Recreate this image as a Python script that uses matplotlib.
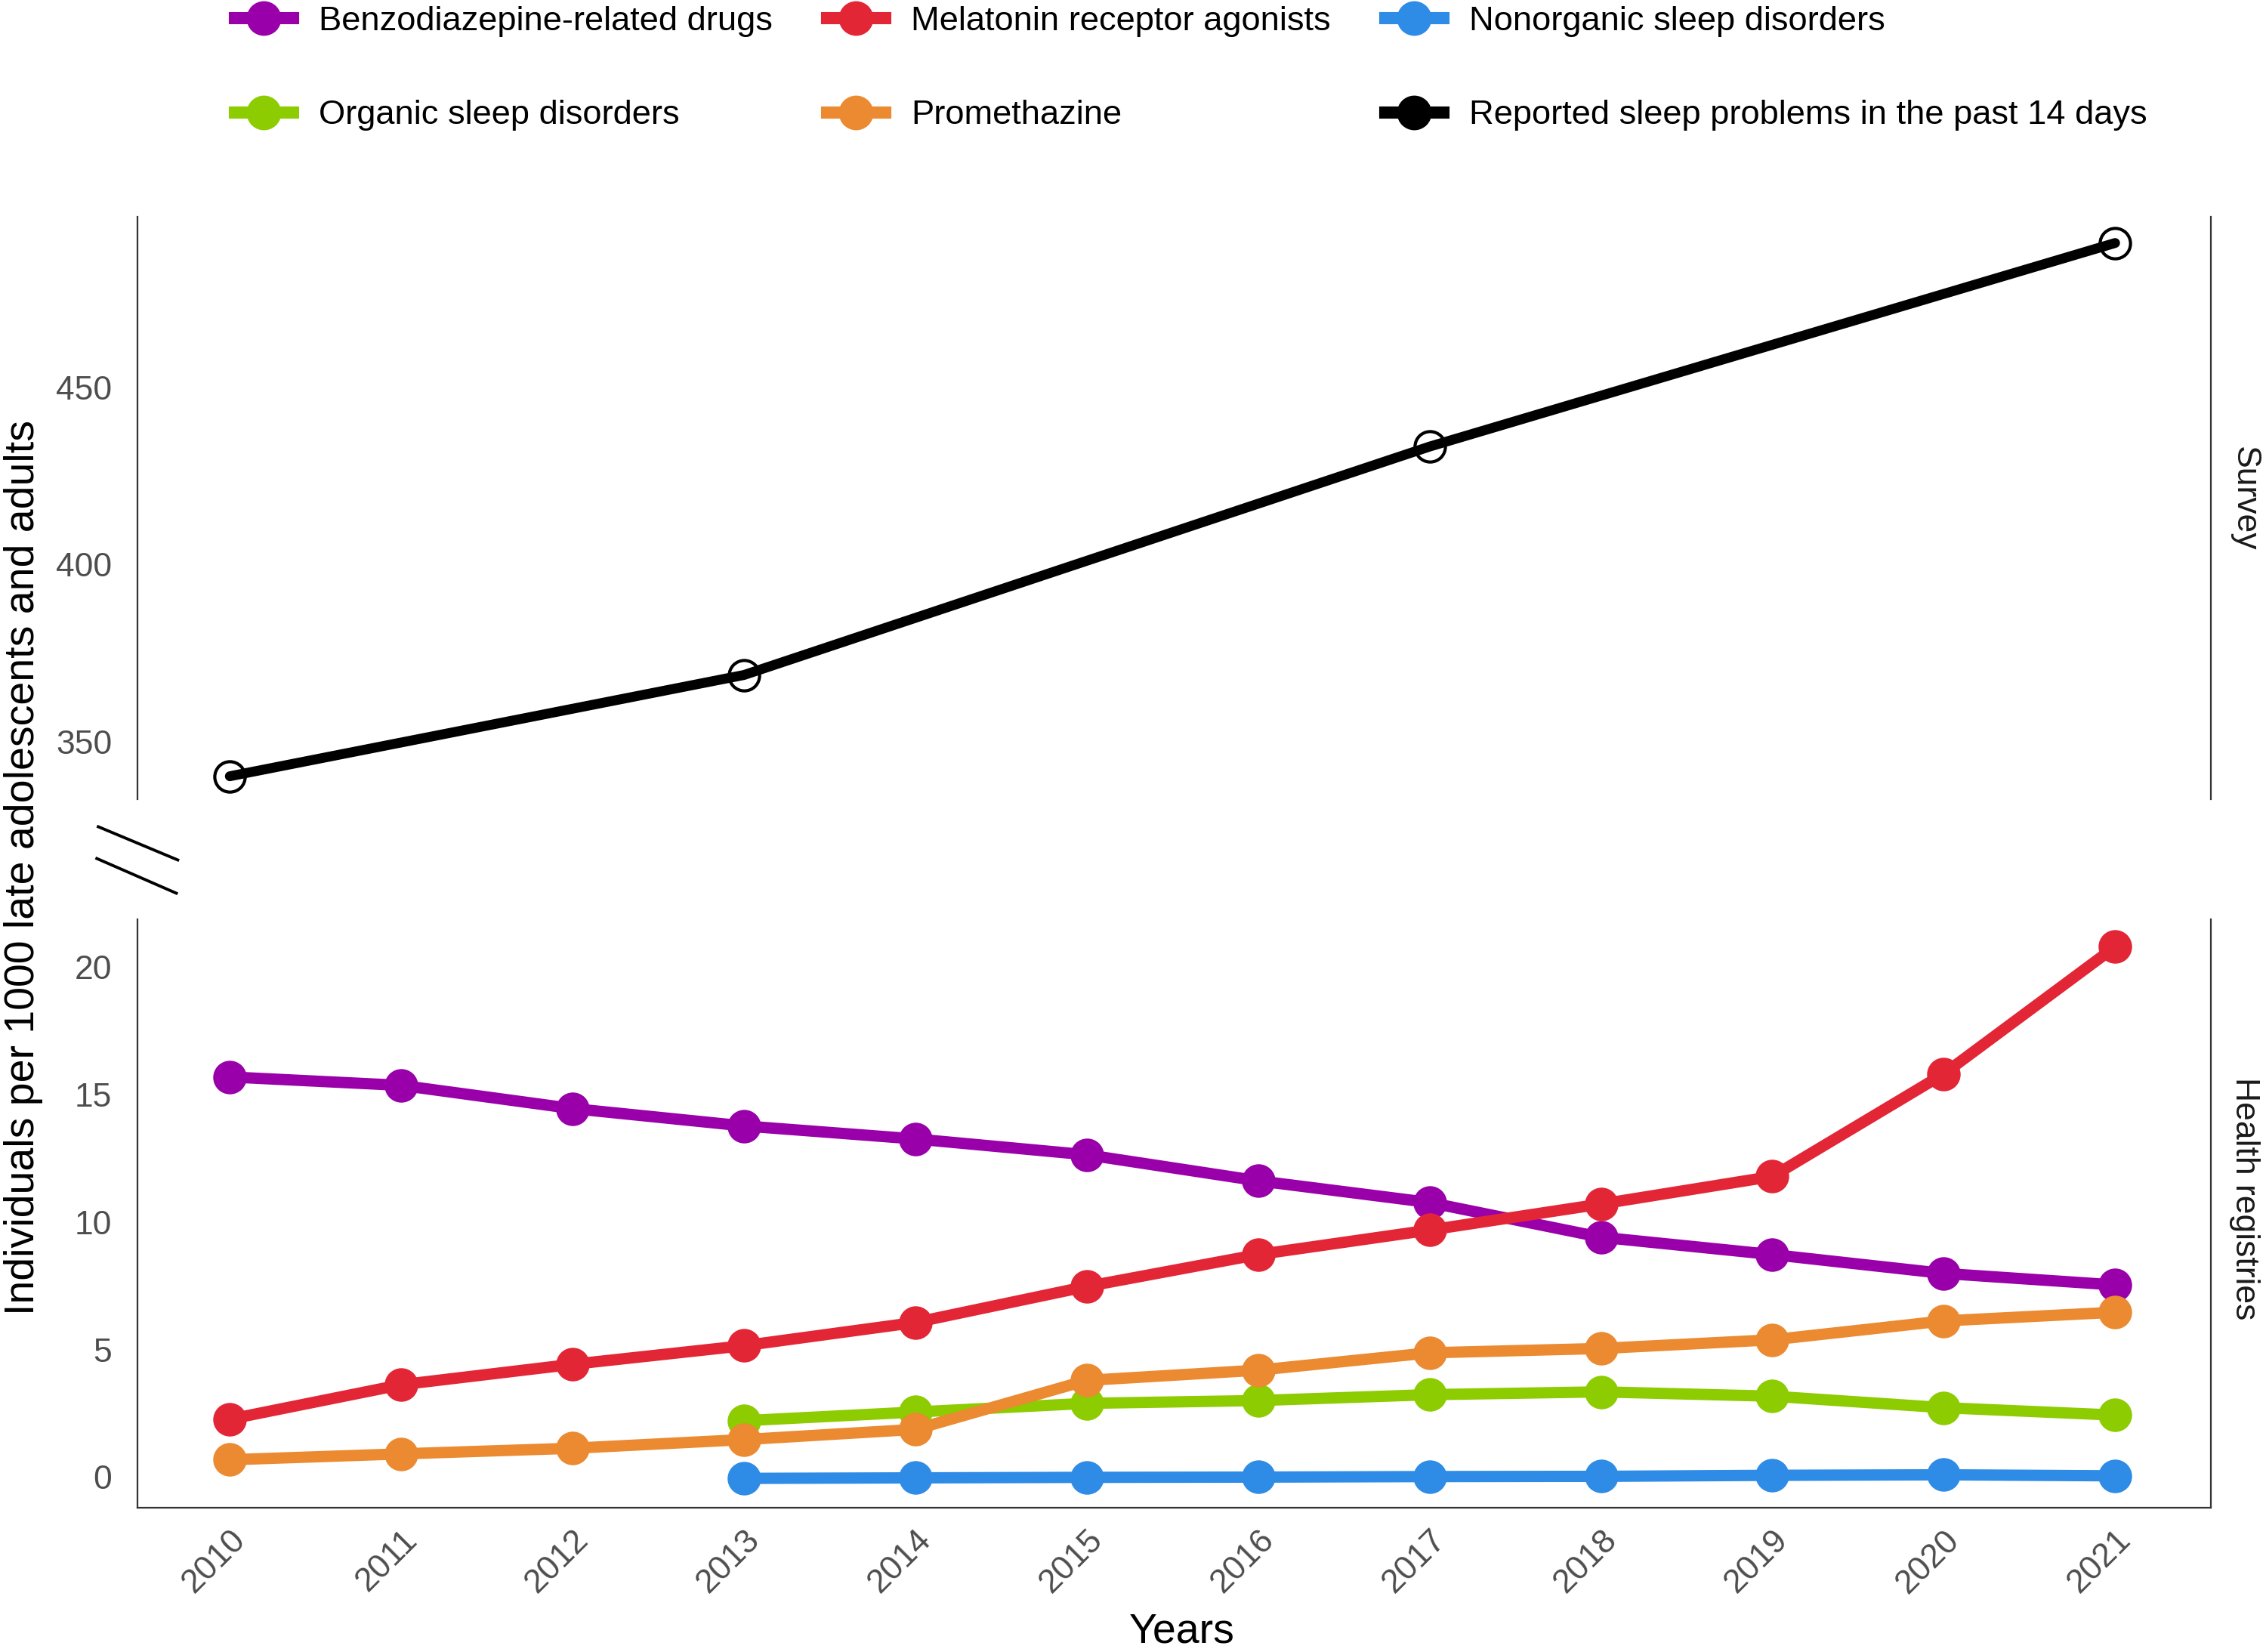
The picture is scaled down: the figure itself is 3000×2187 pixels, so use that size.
import matplotlib
matplotlib.use("Agg")
import matplotlib.pyplot as plt
from matplotlib.lines import Line2D
import numpy as np

plt.rcParams['font.family'] = ['Liberation Sans', 'DejaVu Sans']

# ---------------- data ----------------
years = [2010, 2011, 2012, 2013, 2014, 2015, 2016, 2017, 2018, 2019, 2020, 2021]
years_late = [2013, 2014, 2015, 2016, 2017, 2018, 2019, 2020, 2021]
survey_years = [2010, 2013, 2017, 2021]

benzo = [15.68, 15.35, 14.44, 13.76, 13.25, 12.63, 11.61, 10.76, 9.40, 8.72, 7.98, 7.53]
melatonin = [2.27, 3.62, 4.42, 5.15, 6.06, 7.47, 8.72, 9.68, 10.70, 11.78, 15.80, 20.78]
promethazine = [0.68, 0.91, 1.13, 1.47, 1.87, 3.79, 4.19, 4.87, 5.04, 5.38, 6.12, 6.46]
organic = [2.21, 2.55, 2.89, 3.00, 3.23, 3.34, 3.17, 2.72, 2.43]
nonorganic = [-0.05, -0.03, -0.01, 0.00, 0.02, 0.03, 0.07, 0.09, 0.05]
survey = [340.2, 368.8, 433.3, 490.8]

labels = ['Benzodiazepine-related drugs', 'Melatonin receptor agonists',
          'Nonorganic sleep disorders', 'Organic sleep disorders',
          'Promethazine', 'Reported sleep problems in the past 14 days']
colors = ['#9900AA', '#E32636', '#2E8BE6', '#8CCC00', '#EB8A30', '#000000']

# ---------------- figure ----------------
W, H = 1568, 1143   # reference layout units
fig = plt.figure(figsize=(15, 10.935), dpi=200)

def fx(x):
    return x / W

def fy(y):
    return 1 - y / H

ax_top = fig.add_axes([fx(95), fy(553), fx(1530) - fx(95), fy(150) - fy(553)])
ax_bot = fig.add_axes([fx(95), fy(1043), fx(1530) - fx(95), fy(636) - fy(1043)])

spine_col = '#333333'
tick_col = '#4D4D4D'
for ax in (ax_top, ax_bot):
    for s in ax.spines.values():
        s.set_color(spine_col)
        s.set_linewidth(0.8)
    ax.spines['top'].set_visible(False)
    ax.tick_params(axis='both', length=0, labelsize=16, labelcolor=tick_col)
    ax.tick_params(axis='y', pad=12)
    ax.set_xlim(2009.46, 2021.56)
ax_top.spines['bottom'].set_visible(False)

# survey panel
ax_top.plot(survey_years, survey, color='black', lw=4.7, zorder=3,
            solid_capstyle='round', solid_joinstyle='round')
ax_top.plot(survey_years, survey, ls='none', marker='o', ms=14.5,
            mfc='white', mec='black', mew=1.5, zorder=2)
ax_top.set_ylim(333.7, 498.2)
ax_top.set_yticks([350, 400, 450])
ax_top.set_xticks([])

# health registries panel
series = [(years, benzo), (years, melatonin), (years_late, nonorganic),
          (years_late, organic), (years, promethazine)]
for (xs, ys), c in zip(series, colors[:5]):
    ax_bot.plot(xs, ys, color=c, lw=5.4, zorder=2,
                solid_capstyle='round', solid_joinstyle='round')
for (xs, ys), c in zip(series, colors[:5]):
    ax_bot.plot(xs, ys, ls='none', marker='o', ms=15, color=c, zorder=3)
ax_bot.set_ylim(-1.19, 21.86)
ax_bot.set_yticks([0, 5, 10, 15, 20])
ax_bot.set_xticks(years)
ax_bot.set_xticklabels([str(y) for y in years], rotation=45, ha='right',
                       rotation_mode='anchor')
ax_bot.tick_params(axis='x', pad=8)

# strip labels
fig.text(fx(1553), fy(345), 'Survey', rotation=-90, ha='center', va='center',
         fontsize=16, color='#1A1A1A')
fig.text(fx(1553), fy(829), 'Health registries', rotation=-90, ha='center',
         va='center', fontsize=16, color='#1A1A1A')

# axis titles
fig.text(fx(16), fy(600), 'Individuals per 1000 late adolescents and adults',
         rotation=90, ha='center', va='center', fontsize=20)
fig.text(fx(818), fy(1129), 'Years', ha='center', va='center', fontsize=20)

# axis break marks
fig.add_artist(Line2D([fx(68), fx(123)], [fy(572), fy(595)], color='black', lw=1.4))
fig.add_artist(Line2D([fx(67), fx(122)], [fy(594), fy(618)], color='black', lw=1.4))

# legend (row-major in picture -> column-major order for matplotlib)
handles = [Line2D([], [], color=c, lw=5.8, marker='o', ms=15.5) for c in colors]
order = [0, 3, 1, 4, 2, 5]
fig.legend([handles[i] for i in order], [labels[i] for i in order],
           loc='upper center', bbox_to_anchor=(fx(824), fy(4)), ncol=3,
           frameon=False, fontsize=16.3, handlelength=1.7, handletextpad=0.75,
           columnspacing=1.6, labelspacing=1.85, borderpad=0, borderaxespad=0)

fig.savefig('out.png', dpi=200, facecolor='white')
